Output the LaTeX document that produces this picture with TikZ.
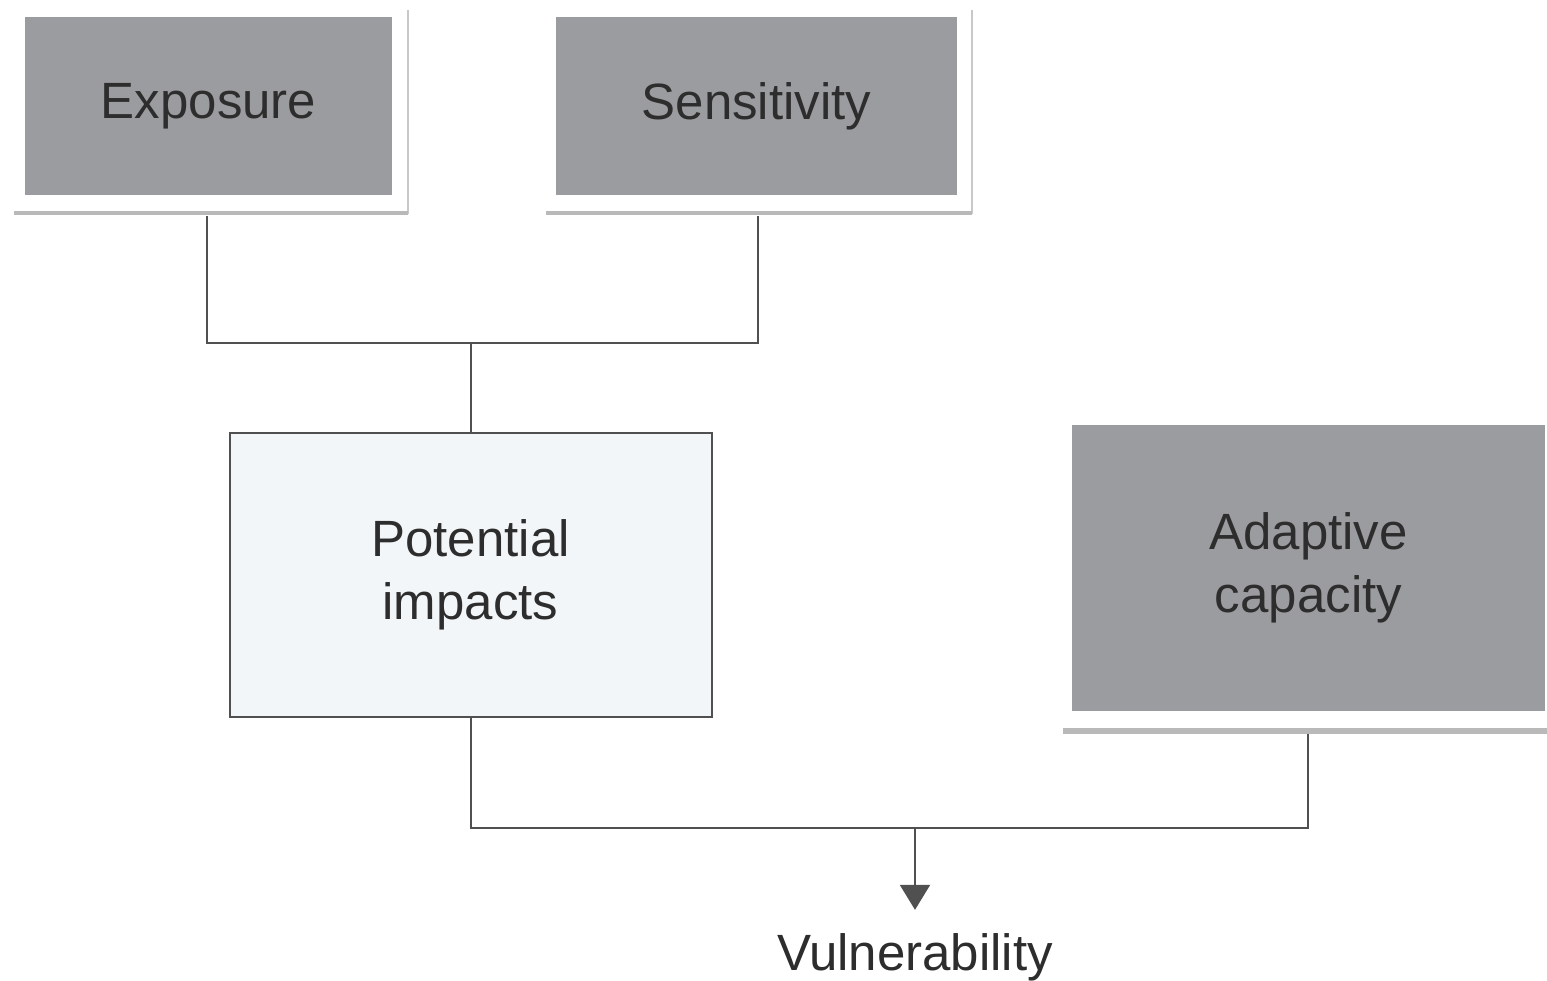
\documentclass[tikz,border=0pt]{standalone}
\usepackage{fontspec}
\setmainfont{Liberation Sans}
\usetikzlibrary{arrows.meta}
\definecolor{boxgray}{RGB}{154,156,159}
\definecolor{paleblue}{RGB}{243,246,248}
\definecolor{txt}{RGB}{45,45,45}
\definecolor{linec}{RGB}{80,80,80}
\definecolor{framec}{RGB}{200,200,200}
\definecolor{barc}{RGB}{185,185,185}
\begin{document}
\begin{tikzpicture}[x=1pt,y=-1pt,
  lbl/.style={font=\fontsize{51}{63}\selectfont, text=txt, align=center},
  graybox/.style={lbl, fill=boxgray, draw=none, inner sep=0pt},
  palebox/.style={lbl, fill=paleblue, draw=linec, line width=2pt, inner sep=0pt},
  conn/.style={draw=linec, line width=2pt},
  framethin/.style={draw=framec, line width=2pt},
  framethick/.style={draw=barc, line width=4pt},
  arr/.style={conn, -{Triangle[width=30pt,length=25pt]}}
]
\useasboundingbox (0,0) rectangle (1547,981);
\fill[white] (0,0) rectangle (1547,981);

% boxes
\node[graybox, minimum width=367pt, minimum height=178pt] (exp) at (208.5,106) {Exposure};
\node[graybox, minimum width=401pt, minimum height=178pt] (sen) at (756.5,106) {Sensitivity};
\node[palebox, minimum width=482pt, minimum height=284pt] (pot) at (470.5,575) {Potential\\impacts};
\node[graybox, minimum width=473pt, minimum height=286pt] (ada) at (1308.5,568) {Adaptive\\capacity};
\node[lbl, anchor=base, inner sep=0pt] (vul) at (915,970) {Vulnerability};

% frames
\draw[framethin] (408,10) -- (408,214);
\draw[framethick] (14,213) -- (408,213);
\draw[framethin] (972,10) -- (972,214);
\draw[framethick] (546,213) -- (972,213);
\draw[barc, line width=6pt] (1063,731) -- (1547,731);

% coordinates
\coordinate (expb) at (207,216);
\coordinate (senb) at (758,216);
\coordinate (j1) at (470.5,343);
\coordinate (adab) at (1308,734);
\coordinate (j2) at (915,828);

% connectors
\draw[conn] (expb) |- (j1) -| (senb);
\draw[conn] (j1) -- (pot.north);
\draw[conn] (pot.south) |- (j2) -| (adab);
\draw[arr] (j2) -- ([yshift=23pt]vul.north);
\end{tikzpicture}
\end{document}
